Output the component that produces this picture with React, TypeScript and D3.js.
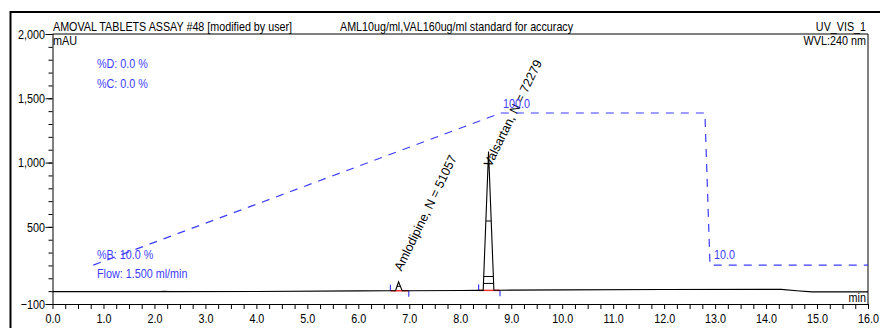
import { useEffect, useRef } from "react";
import * as d3 from "d3";

const width = 880;
const height = 328;
const plot = { left: 52.5, right: 868, top: 34, bottom: 304 };
const font = '"Liberation Sans", Arial, sans-serif';
const narrow = 0.83; // report font is a condensed Arial
const blue = "#3c3cff";

// chromatogram signal (min / mAU)
const signalTimes = [0, 1, 2.1, 2.2, 2.3, 4, 6, 6.63, 6.73, 6.79, 6.86, 6.99, 8.0, 8.36, 8.45, 8.555, 8.66, 8.78, 9, 10, 12, 14.3, 14.6, 14.9, 16];
const signalValues = [-4, -4, -4, -2, -4, -3, 2, 3, 3, 73, 3, 3, 5, 6, 6, 1085, 7, 7, 8, 10, 13, 14, 3, -6, -6];

// gradient program (%B)
const gradientTimes = [0.8, 8.8, 12.8, 12.9, 16.0];
const gradientB = [10, 100, 100, 10, 10];

// integrated peaks
const peakNames = ["Amlodipine", "Valsartan"];
const peakPlates = [51057, 72279];
const peakTimes = [6.79, 8.555];
const peakHeights = [73, 1085];
const peakStarts = [6.63, 8.36];
const peakEnds = [6.99, 8.78];
const peakBaseValues = [3, 6];
const peakHalfWidths = [0.065, 0.1];
const peakWidthLevels = [[0.5], [0.05, 0.1, 0.5]];

const yMajorTicks = [-100, 500, 1000, 1500, 2000];
const xMajorTicks = [0, 1, 2, 3, 4, 5, 6, 7, 8, 9, 10, 11, 12, 13, 14, 15, 16];

// label offsets from each peak top (px)
const labelOffsets = [
  [3, -10],
  [2.5, 16],
];

export default function App() {
  const svgRef = useRef<SVGSVGElement | null>(null);

  useEffect(() => {
    if (!svgRef.current) return;
    const svg = d3.select(svgRef.current);
    svg.selectAll("*").remove();

    const x = d3.scaleLinear().domain([0, 16]).range([plot.left, plot.right]);
    const y = d3.scaleLinear().domain([-100, 2000]).range([plot.bottom, plot.top]);
    const yB = d3.scaleLinear().domain([0, 100]).range([282, 113]);

    // outer report frame
    svg
      .append("path")
      .attr("d", `M10.5,${height} V12 H${width}`)
      .attr("fill", "none")
      .attr("stroke", "#000")
      .attr("stroke-width", 2);

    // plot box top + right
    svg
      .append("path")
      .attr("d", `M${plot.left},${plot.top} H${plot.right} V${plot.bottom}`)
      .attr("fill", "none")
      .attr("stroke", "#000")
      .attr("stroke-width", 1);

    // y axis (minor every 100 mAU)
    const gy = svg.append("g").attr("transform", `translate(${plot.left},0)`);
    gy.call(
      d3
        .axisLeft(y)
        .tickValues(d3.range(-100, 2001, 100))
        .tickSize(4)
        .tickFormat(() => ""),
    );
    gy.select(".domain").remove();
    const gy2 = svg.append("g").attr("transform", `translate(${plot.left},0)`);
    gy2.call(
      d3
        .axisLeft(y)
        .tickValues(yMajorTicks)
        .tickSize(7)
        .tickFormat((d) => d3.format(",")(d as number)),
    );
    gy2.select(".domain").attr("d", `M0.5,${plot.top}V${plot.bottom}`);
    gy2
      .selectAll("text")
      .attr("x", -7.5 / narrow)
      .attr("transform", `scale(${narrow},1)`)
      .style("font-family", font)
      .style("font-size", "13px")
      .attr("fill", "#000");

    // x axis (minor every 0.25 min)
    const gx = svg.append("g").attr("transform", `translate(0,${plot.bottom})`);
    gx.call(
      d3
        .axisBottom(x)
        .tickValues(d3.range(0, 16.001, 0.25))
        .tickSize(5)
        .tickPadding(5)
        .tickFormat((d) => (xMajorTicks.includes(d as number) ? d3.format(".1f")(d as number) : "")),
    );
    gx.select(".domain").attr("d", `M${plot.left},0.5H${plot.right}`);
    gx.selectAll("text")
      .attr("transform", `scale(${narrow},1)`)
      .style("font-family", font)
      .style("font-size", "13px")
      .attr("fill", "#000");

    // gradient
    const gradPts = gradientTimes.map((t, i) => [x(t), yB(gradientB[i])] as [number, number]);
    svg
      .append("path")
      .attr("d", d3.line()(gradPts))
      .attr("fill", "none")
      .attr("stroke", blue)
      .attr("stroke-width", 1.2)
      .attr("stroke-dasharray", "8,7");

    // integration baselines + delimiters
    peakNames.forEach((_, i) => {
      const x0 = x(peakStarts[i]);
      const x1 = x(peakEnds[i]);
      const yb = y(peakBaseValues[i]);
      svg.append("line").attr("x1", x0).attr("x2", x1).attr("y1", yb).attr("y2", yb).attr("stroke", "#ff3030").attr("stroke-width", 1.5);
      svg.append("line").attr("x1", x0).attr("x2", x0).attr("y1", yb - 6).attr("y2", yb).attr("stroke", blue).attr("stroke-width", 1.2);
      svg.append("line").attr("x1", x1).attr("x2", x1).attr("y1", yb).attr("y2", yb + 6).attr("stroke", blue).attr("stroke-width", 1.2);
    });

    // signal
    const sigPts = signalTimes.map((t, i) => [x(t), y(signalValues[i])] as [number, number]);
    svg
      .append("path")
      .attr("d", d3.line()(sigPts))
      .attr("fill", "none")
      .attr("stroke", "#000")
      .attr("stroke-width", 1.1);

    // peak width markers
    peakNames.forEach((_, i) => {
      peakWidthLevels[i].forEach((f) => {
        const hw = peakHalfWidths[i] * (1 - f);
        const v = peakBaseValues[i] + (peakHeights[i] - peakBaseValues[i]) * f;
        svg
          .append("line")
          .attr("x1", x(peakTimes[i] - hw))
          .attr("x2", x(peakTimes[i] + hw))
          .attr("y1", y(v))
          .attr("y2", y(v))
          .attr("stroke", "#000")
          .attr("stroke-width", 1);
      });
    });

    // peak labels
    peakNames.forEach((name, i) => {
      const lx = x(peakTimes[i]) + labelOffsets[i][0];
      const ly = y(peakHeights[i]) + labelOffsets[i][1];
      svg
        .append("text")
        .attr("transform", `translate(${lx},${ly}) rotate(-64)`)
        .style("font-family", font)
        .style("font-size", "12.5px")
        .attr("fill", "#000")
        .text(`${name}, N = ${peakPlates[i]}`);
    });

    // report texts
    const addText = (t: string, tx: number, ty: number, color = "#000", anchor = "start", size = 13, sx = narrow) =>
      svg
        .append("text")
        .attr("transform", `translate(${tx},${ty}) scale(${sx},1)`)
        .attr("text-anchor", anchor)
        .style("font-family", font)
        .style("font-size", `${size}px`)
        .attr("fill", color)
        .text(t);

    addText("AMOVAL TABLETS ASSAY #48 [modified by user]", 53, 31, "#000", "start", 12.5, 0.86);
    addText("AML10ug/ml,VAL160ug/ml standard for accuracy", 340, 31, "#000", "start", 12.5, 0.86);
    addText("UV_VIS_1", 866, 31, "#000", "end", 12.5, 0.86);
    addText("WVL:240 nm", 866, 44.5, "#000", "end", 12, 0.9);
    addText("mAU", 53, 45, "#000", "start", 12, 0.9);
    addText("min", 866, 301.5, "#000", "end");
    addText("%D: 0.0 %", 97, 68.3, blue);
    addText("%C: 0.0 %", 97, 87.5, blue);
    addText(`%B: ${gradientB[0].toFixed(1)} %`, 97, 259, blue);
    addText("Flow: 1.500 ml/min", 97, 277.7, blue);
    addText(gradientB[1].toFixed(1), x(gradientTimes[1]) + 2, 107.5, blue);
    addText(gradientB[3].toFixed(1), x(gradientTimes[3]) + 4, 259, blue);
  }, []);

  return (
    <svg
      ref={svgRef}
      width={width}
      height={height}
      viewBox={`0 0 ${width} ${height}`}
      style={{ position: "absolute", left: 0, top: 0, background: "#fff", display: "block" }}
    />
  );
}
